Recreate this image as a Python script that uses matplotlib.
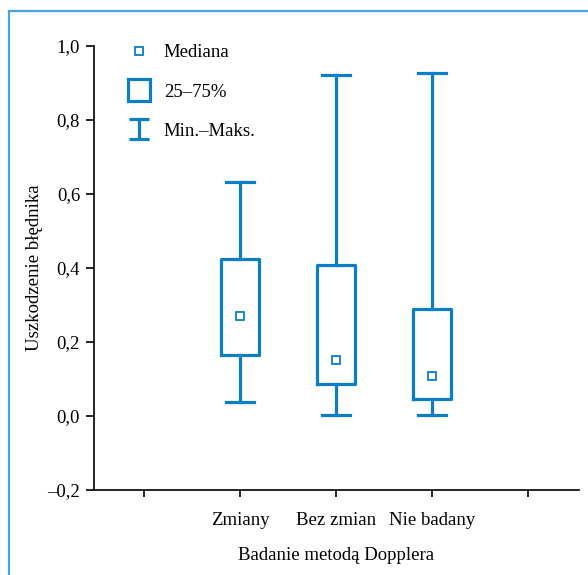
import matplotlib
matplotlib.use("Agg")
import matplotlib.pyplot as plt
from matplotlib.lines import Line2D
from matplotlib.path import Path

# data
groups = ["Zmiany", "Bez zmian", "Nie badany"]
mins = [0.038, 0.003, 0.003]
q1s = [0.164, 0.087, 0.046]
medians = [0.271, 0.152, 0.108]
q3s = [0.424, 0.408, 0.290]
maxs = [0.631, 0.921, 0.927]
yticks = [-0.2, 0.0, 0.2, 0.4, 0.6, 0.8, 1.0]
ytick_labels = ["\u20130,2", "0,0", "0,2", "0,4", "0,6", "0,8", "1,0"]

BLUE = "#0b7ec4"
FRAME = "#4aa3dc"

plt.rcParams["font.family"] = ["Liberation Serif", "DejaVu Serif"]
plt.rcParams["font.size"] = 13.5

fig = plt.figure(figsize=(5.88, 5.75), dpi=100)
ax = fig.add_axes([94 / 588, 1 - 490 / 575, (579 - 94) / 588, (490 - 45.7) / 575])

positions = [1, 2, 3]
stats = [dict(med=m, q1=a, q3=b, whislo=lo, whishi=hi, fliers=[])
         for lo, a, m, b, hi in zip(mins, q1s, medians, q3s, maxs)]
lw = 2.3
ax.bxp(stats, positions=positions, widths=0.4, capwidths=0.29,
       boxprops=dict(color=BLUE, linewidth=lw),
       whiskerprops=dict(color=BLUE, linewidth=lw),
       capprops=dict(color=BLUE, linewidth=lw),
       medianprops=dict(linewidth=0), manage_ticks=False)
ax.plot(positions, medians, ls="none", marker="s", ms=5.5, mfc="white",
        mec=BLUE, mew=1.3)

ax.set_xlim(-0.52, 4.53)
ax.set_ylim(-0.2, 1.0)
ax.set_yticks(yticks)
ax.set_yticklabels(ytick_labels)
ax.set_xticks([0, 1, 2, 3, 4])
ax.set_xticklabels(["", "Zmiany", "Bez zmian", "Nie badany", ""])
ax.tick_params(axis="both", direction="out", width=1.2, color="black")
ax.tick_params(axis="x", length=5, pad=11)
ax.tick_params(axis="y", length=6, pad=4)
for s in ["top", "right"]:
    ax.spines[s].set_visible(False)
for s in ["left", "bottom"]:
    ax.spines[s].set_linewidth(1.2)

ax.set_ylabel("Uszkodzenie błędnika", labelpad=3)
ax.set_xlabel("Badanie metodą Dopplera", labelpad=13)

# legend
ibar = Path([(-0.5, 0.5), (0.5, 0.5), (0, 0.5), (0, -0.5), (-0.5, -0.5), (0.5, -0.5)],
            [Path.MOVETO, Path.LINETO, Path.MOVETO, Path.LINETO, Path.MOVETO, Path.LINETO])
handles = [
    Line2D([], [], ls="none", marker="s", ms=5.5, mfc="white", mec=BLUE, mew=1.3),
    Line2D([], [], ls="none", marker="s", ms=16, mfc="white", mec=BLUE, mew=2.3),
    Line2D([], [], ls="none", marker=ibar, ms=14, mec=BLUE, mew=2.3),
]
ax.legend(handles, ["Mediana", "25\u201375%", "Min.\u2013Maks."], loc="upper left",
          bbox_to_anchor=(0.02, 1.041), frameon=False, labelspacing=1.17,
          handletextpad=0.3, handlelength=2.0)

# blue frame around the figure
fig.add_artist(Line2D([9 / 588, 9 / 588], [0, 1 - 10.7 / 575], transform=fig.transFigure,
                      color=FRAME, lw=1.6))
fig.add_artist(Line2D([9 / 588, 1], [1 - 10.7 / 575, 1 - 10.7 / 575], transform=fig.transFigure,
                      color=FRAME, lw=1.6))

fig.savefig("out.png", dpi=100)
